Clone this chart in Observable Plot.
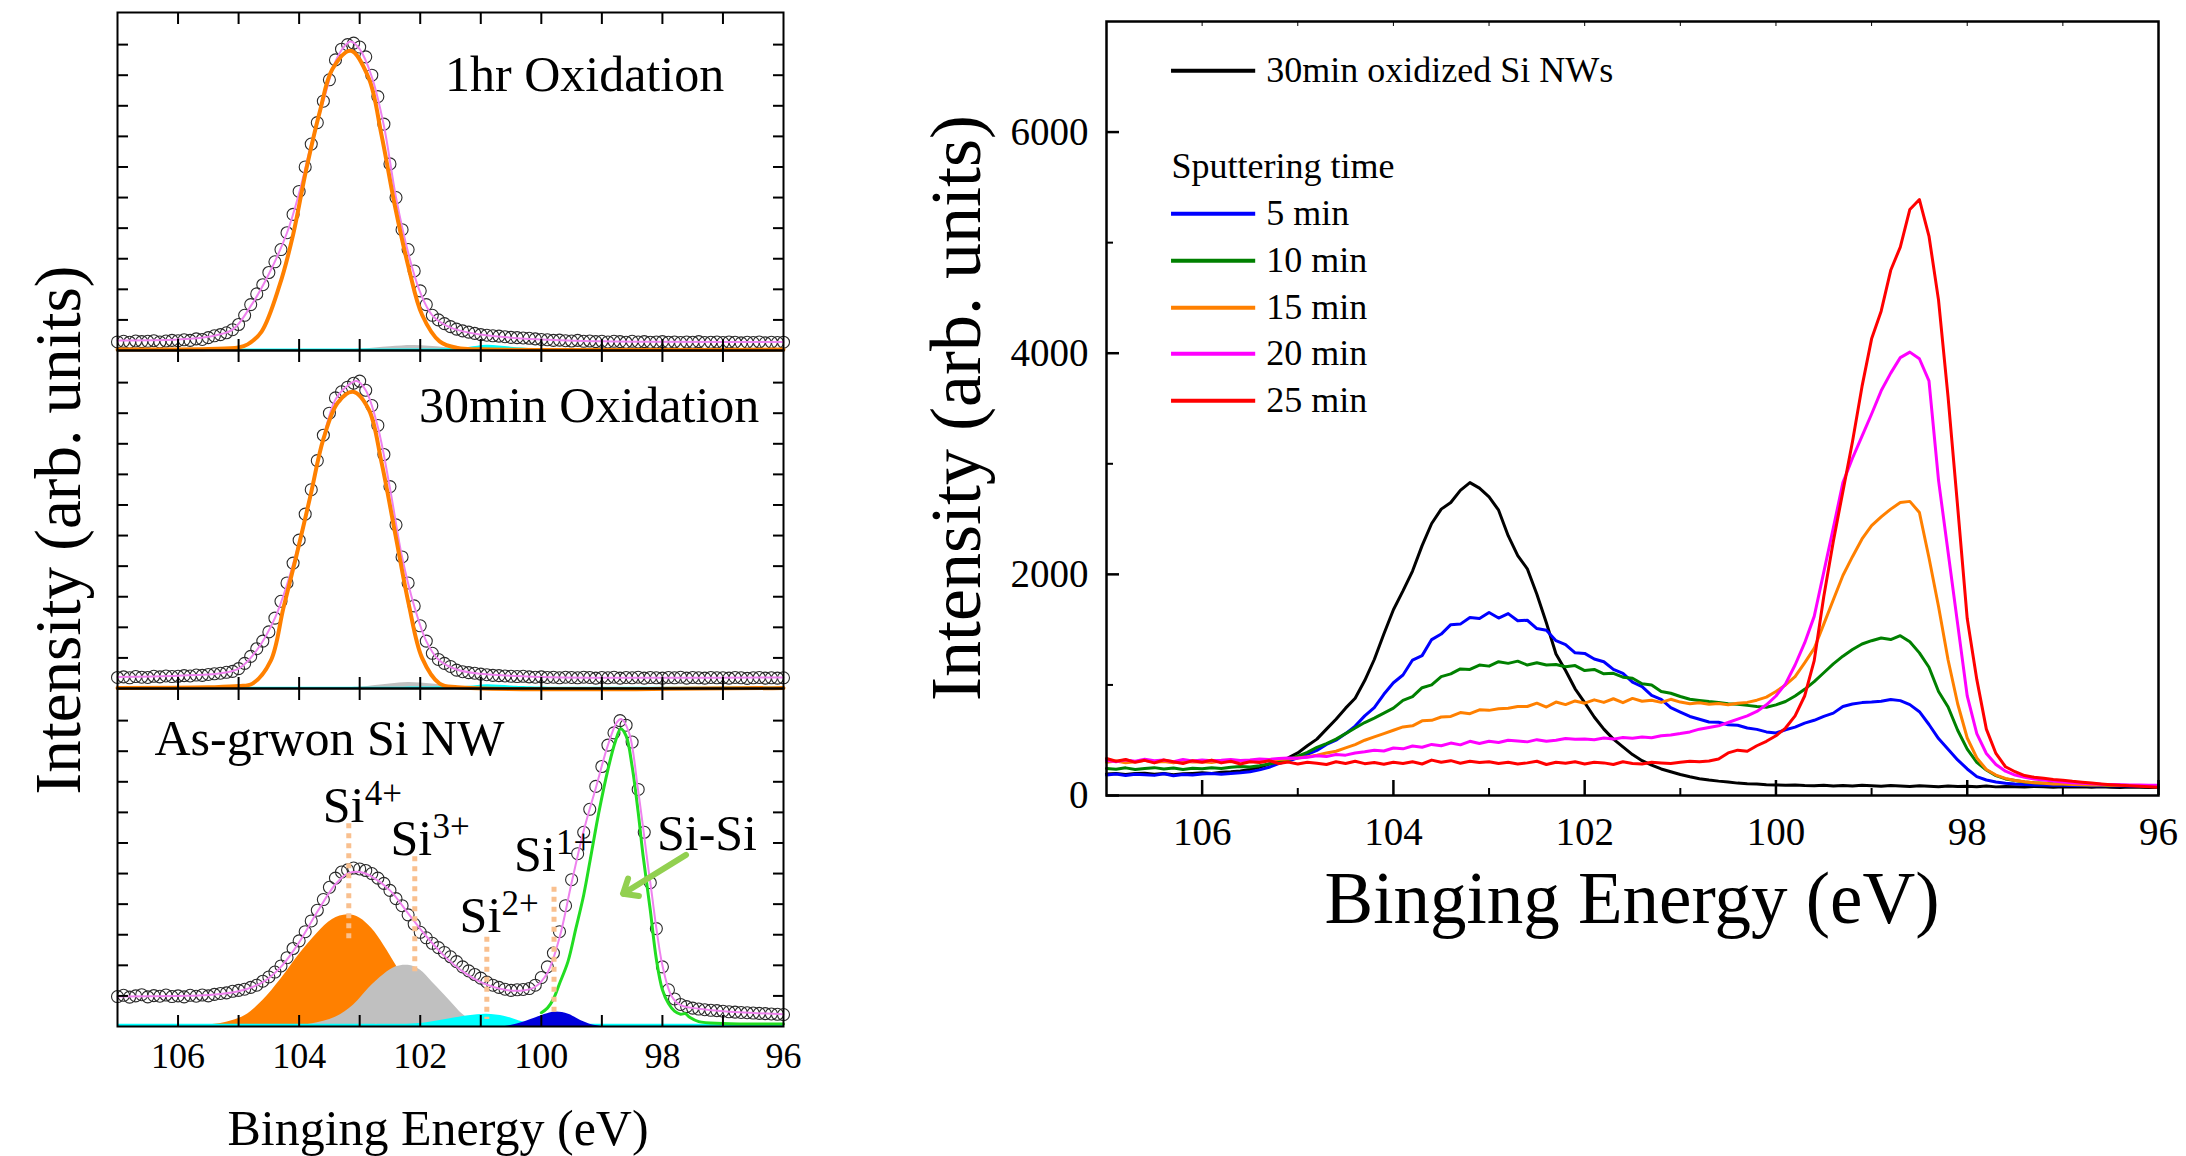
<!DOCTYPE html>
<html><head><meta charset="utf-8">
<script src="https://cdn.jsdelivr.net/npm/d3@7"></script>
<script src="https://cdn.jsdelivr.net/npm/@observablehq/plot@0.6"></script>
<style>
body{margin:0;background:#fff;}
#wrap{position:relative;width:2186px;height:1156px;background:#fff;overflow:hidden;}
</style></head><body><div id="wrap"></div>
<script>
// ---------- energy grid (eV) ----------
const E = [
107.0,106.9,106.8,106.7,106.6,106.5,106.4,106.3,106.2,106.1,
106.0,105.9,105.8,105.7,105.6,105.5,105.4,105.3,105.2,105.1,
105.0,104.9,104.8,104.7,104.6,104.5,104.4,104.3,104.2,104.1,
104.0,103.9,103.8,103.7,103.6,103.5,103.4,103.3,103.2,103.1,
103.0,102.9,102.8,102.7,102.6,102.5,102.4,102.3,102.2,102.1,
102.0,101.9,101.8,101.7,101.6,101.5,101.4,101.3,101.2,101.1,
101.0,100.9,100.8,100.7,100.6,100.5,100.4,100.3,100.2,100.1,
100.0,99.9,99.8,99.7,99.6,99.5,99.4,99.3,99.2,99.1,
99.0,98.9,98.8,98.7,98.6,98.5,98.4,98.3,98.2,98.1,
98.0,97.9,97.8,97.7,97.6,97.5,97.4,97.3,97.2,97.1,
97.0,96.9,96.8,96.7,96.6,96.5,96.4,96.3,96.2,96.1,
96.0];

// ---------- right panel spectra (counts) ----------
const oxid30 = [
195,200,190,198,202,192,198,188,196,200,
205,200,210,215,222,235,255,285,305,340,
385,450,510,600,690,790,880,1040,1230,1460,
1680,1850,2030,2260,2460,2590,2650,2760,2830,2780,
2700,2580,2350,2170,2050,1820,1560,1280,1130,965,
840,710,600,510,440,370,315,275,240,215,
190,170,152,140,130,122,112,106,104,98,
96,92,95,90,88,92,85,90,86,92,
88,84,90,86,82,88,84,80,86,82,
84,80,85,78,82,80,76,82,78,75,
80,76,78,74,78,75,72,76,74,72,
75];
const sput5 = [
185,195,180,192,188,182,196,178,190,186,
195,198,192,200,205,215,232,255,288,312,
340,372,408,462,500,560,628,720,795,915,
1020,1090,1225,1265,1410,1460,1545,1550,1610,1600,
1655,1605,1645,1580,1585,1510,1495,1400,1365,1290,
1285,1235,1210,1140,1105,1025,985,905,870,795,
755,715,690,665,662,640,635,610,598,575,
565,595,618,655,680,715,745,805,828,840,
845,852,868,858,822,758,642,515,418,322,
240,170,140,122,110,104,100,96,94,92,
92,90,93,89,91,88,90,87,89,86,
88];
const sput10 = [
245,238,250,236,244,252,240,248,235,246,
242,250,245,256,262,258,270,285,300,325,
355,390,435,470,510,560,610,660,700,745,
790,860,895,975,1000,1075,1100,1145,1140,1180,
1170,1210,1195,1215,1180,1200,1180,1185,1165,1175,
1130,1140,1100,1105,1070,1060,1010,1000,940,925,
895,870,860,850,842,830,825,815,805,798,
820,850,900,960,1030,1110,1190,1260,1320,1370,
1400,1425,1410,1445,1390,1290,1160,940,800,590,
420,300,230,180,150,135,122,115,110,106,
104,100,98,96,95,93,92,91,90,89,
90];
const sput15 = [
300,312,296,305,318,300,308,295,310,302,
306,298,312,305,316,310,320,318,326,330,
340,350,365,385,400,430,460,500,530,560,
590,620,630,675,680,710,715,750,740,775,
770,785,790,805,805,835,800,845,822,855,
835,865,842,875,840,878,852,862,842,870,
845,830,838,825,832,820,835,842,862,890,
940,1000,1075,1200,1330,1550,1770,1990,2160,2320,
2440,2520,2590,2650,2660,2560,2150,1710,1225,830,
520,340,235,185,155,135,124,115,110,105,
103,100,97,96,94,93,92,91,90,89,
90];
const sput20 = [
318,305,322,310,328,315,320,306,325,312,
320,314,318,325,316,322,330,326,335,340,
338,345,360,352,370,365,385,395,410,402,
430,422,448,436,462,450,474,458,490,470,
490,480,500,492,485,505,490,500,515,508,
512,505,520,510,525,518,530,522,540,548,
560,575,600,615,630,660,690,720,760,820,
900,1010,1180,1380,1620,2020,2420,2830,3050,3250,
3450,3660,3820,3960,4010,3950,3750,2850,2200,1550,
900,560,380,280,220,185,165,150,140,130,
122,115,110,106,102,100,98,96,95,93,
92];
const sput25 = [
335,310,325,300,318,295,322,305,290,315,
300,320,295,310,285,305,298,315,290,302,
285,300,292,280,305,290,310,288,298,282,
300,290,305,285,320,300,315,292,310,298,
305,290,300,285,295,310,280,300,292,305,
285,300,295,280,305,290,285,300,295,290,
300,310,305,312,330,385,410,400,450,490,
540,610,720,900,1220,1800,2300,2750,3200,3700,
4130,4380,4750,4960,5300,5390,5060,4480,3600,2610,
1600,1050,600,380,260,215,180,165,155,145,
138,128,120,112,105,98,92,88,84,80,
75];

const spectraNames = ["30min oxidized Si NWs", "5 min", "10 min", "15 min", "20 min", "25 min"];
const spectraColors = ["#000000", "#0000ff", "#008000", "#ff8000", "#ff00ff", "#ff0000"];
const spectra = [oxid30, sput5, sput10, sput15, sput20, sput25];
const legendHeader = "Sputtering time";
// legend layout in data units of the right panel
const legendRowY = [6555, 5262, 4837, 4412, 3996, 3571];
const legendHeaderY = 5692;
const legendSwatchX = [106.32, 105.44];
const legendTextX = 105.33;

// ---------- left panels: measured points (arb. units) ----------
const oxid1hPts = [
0.28,0.3,0.27,0.31,0.29,0.3,0.32,0.28,0.31,0.33,
0.32,0.35,0.33,0.38,0.36,0.42,0.48,0.52,0.58,0.68,
0.85,1.15,1.5,1.85,2.15,2.55,2.9,3.3,3.85,4.45,
5.2,6.0,6.75,7.45,8.15,8.85,9.5,9.85,10.0,10.05,
9.92,9.6,9.0,8.3,7.4,6.1,5.0,3.95,3.3,2.6,
1.95,1.5,1.15,1.0,0.88,0.78,0.7,0.64,0.6,0.56,
0.52,0.5,0.48,0.47,0.45,0.43,0.42,0.41,0.4,0.38,
0.36,0.35,0.33,0.34,0.32,0.31,0.33,0.3,0.31,0.29,
0.3,0.28,0.3,0.29,0.27,0.3,0.28,0.29,0.27,0.28,
0.29,0.27,0.28,0.26,0.28,0.27,0.29,0.26,0.27,0.28,
0.26,0.28,0.27,0.25,0.27,0.26,0.28,0.25,0.27,0.26,
0.27];
const oxid30Pts = [
0.36,0.38,0.35,0.39,0.37,0.36,0.4,0.38,0.41,0.39,
0.4,0.42,0.41,0.44,0.43,0.46,0.48,0.5,0.53,0.56,
0.65,0.82,1.05,1.3,1.55,1.85,2.3,2.85,3.45,4.1,
4.85,5.7,6.5,7.45,8.28,9.0,9.5,9.7,9.85,9.98,
10.05,9.75,9.25,8.6,7.65,6.6,5.35,4.3,3.45,2.7,
2.05,1.55,1.15,0.95,0.82,0.72,0.6,0.55,0.52,0.5,
0.47,0.45,0.43,0.42,0.41,0.4,0.39,0.4,0.38,0.37,
0.38,0.36,0.37,0.35,0.37,0.36,0.35,0.37,0.36,0.34,
0.36,0.35,0.37,0.34,0.36,0.35,0.37,0.34,0.36,0.35,
0.34,0.36,0.35,0.37,0.34,0.36,0.35,0.34,0.36,0.35,
0.35,0.34,0.36,0.35,0.33,0.35,0.36,0.34,0.35,0.34,
0.35];
const asGrownPts = [
0.98,1.02,0.96,1.0,1.04,0.97,1.01,0.99,1.03,0.98,
1.0,0.97,1.02,0.99,1.03,1.0,1.05,1.08,1.1,1.15,
1.18,1.22,1.28,1.35,1.48,1.62,1.78,1.98,2.25,2.55,
2.8,3.1,3.45,3.8,4.15,4.55,4.85,5.05,5.12,5.18,
5.15,5.1,5.0,4.85,4.68,4.45,4.18,3.95,3.65,3.35,
3.08,2.9,2.72,2.58,2.42,2.28,2.12,1.95,1.82,1.7,
1.58,1.45,1.35,1.28,1.22,1.18,1.2,1.21,1.24,1.35,
1.6,1.95,2.4,3.1,3.95,4.8,5.65,6.35,7.1,7.85,
8.5,9.2,9.6,10.0,9.85,9.3,7.75,6.35,4.7,3.2,
1.95,1.2,0.9,0.72,0.65,0.6,0.57,0.55,0.53,0.52,
0.5,0.48,0.47,0.46,0.45,0.44,0.43,0.42,0.41,0.4,
0.39];

// ---------- left panels: fitted curves [eV, value] ----------
const oxid1hEnvelope = [[107,0.33],[106,0.36],[105.5,0.45],[105.1,0.68],[104.8,1.45],[104.5,2.5],[104.2,3.85],[104.0,5.15],[103.8,6.75],[103.6,8.15],[103.4,9.45],[103.25,9.95],[103.15,10.1],[103.0,9.85],[102.8,8.95],[102.6,7.35],[102.4,5.0],[102.2,3.2],[102.0,1.9],[101.8,1.15],[101.5,0.75],[101.0,0.52],[100.0,0.36],[99,0.3],[96,0.28]];
const oxid1hSi4 = [[107,0.03],[105.5,0.05],[105,0.1],[104.85,0.2],[104.62,0.62],[104.32,2.15],[104.1,3.78],[103.89,5.85],[103.66,7.8],[103.45,9.2],[103.15,9.8],[102.85,8.9],[102.64,7.05],[102.41,4.65],[102.19,2.7],[101.97,1.17],[101.68,0.3],[101.38,0.08],[101,0.04],[96,0.03]];
const oxid1hSi3 = [[103.6,0],[103,0.04],[102.5,0.12],[102.1,0.16],[101.6,0.1],[101.1,0.03],[100.6,0]];
const oxid1hSi2 = [[107,0.05],[102,0.05],[101.6,0.06],[101.2,0.1],[100.9,0.17],[100.5,0.11],[100.1,0.06],[99.5,0.05],[96,0.05]];

const oxid30Envelope = [[107,0.38],[106,0.42],[105.3,0.5],[105,0.65],[104.7,1.25],[104.4,2.3],[104.2,3.4],[104,4.8],[103.8,6.45],[103.6,8.2],[103.4,9.45],[103.2,9.9],[103.05,10.05],[102.9,9.75],[102.7,8.55],[102.5,6.55],[102.3,4.3],[102.1,2.7],[101.9,1.55],[101.7,0.95],[101.4,0.62],[101,0.48],[100,0.38],[96,0.36]];
const oxid30Si4 = [[107,0.02],[105.5,0.04],[105,0.08],[104.77,0.16],[104.47,0.9],[104.26,2.63],[104.04,4.38],[103.81,6.33],[103.6,8.15],[103.36,9.35],[103.11,9.7],[102.85,9.12],[102.64,7.4],[102.41,5.03],[102.19,2.76],[101.97,1.0],[101.68,0.16],[101.38,0.04],[96,0.02]];
const oxid30Si3 = [[103.6,0],[103,0.05],[102.5,0.15],[102.2,0.2],[101.8,0.15],[101.3,0.05],[100.8,0]];
const oxid30Si2 = [[107,0.05],[101.8,0.05],[101.2,0.07],[100.9,0.12],[100.5,0.08],[100.1,0.05],[96,0.05]];

const asGrownEnvelope = [[107,0.98],[106,1.0],[105.5,1.03],[105,1.15],[104.6,1.45],[104.3,1.95],[104,2.75],[103.7,3.75],[103.4,4.65],[103.2,5.0],[103.0,5.05],[102.8,4.9],[102.5,4.45],[102.2,3.7],[101.9,2.95],[101.6,2.3],[101.3,1.8],[101,1.45],[100.6,1.2],[100.3,1.18],[100.1,1.3],[99.9,1.75],[99.7,2.9],[99.5,4.7],[99.3,6.4],[99.1,7.8],[98.9,9.2],[98.75,9.95],[98.68,10.05],[98.55,9.6],[98.4,7.7],[98.2,4.7],[98.0,2.0],[97.85,1.0],[97.7,0.7],[97.4,0.58],[97,0.5],[96,0.4]];
const asGrownSi4 = [[106,0],[105.6,0.03],[105.2,0.14],[104.9,0.35],[104.6,0.85],[104.3,1.55],[104.0,2.35],[103.7,3.05],[103.45,3.5],[103.2,3.65],[103.0,3.55],[102.8,3.2],[102.6,2.65],[102.4,2.0],[102.2,1.35],[102.0,0.8],[101.8,0.45],[101.5,0.15],[101.2,0.04],[100.8,0]];
const asGrownSi3 = [[104.2,0],[103.8,0.08],[103.4,0.3],[103.1,0.7],[102.85,1.25],[102.6,1.7],[102.4,1.95],[102.2,2.0],[102.0,1.85],[101.8,1.45],[101.5,0.82],[101.3,0.4],[101.1,0.15],[100.8,0.03],[100.5,0]];
const asGrownSi2 = [[107,0.07],[103,0.07],[102.6,0.07],[102.0,0.1],[101.6,0.22],[101.2,0.35],[100.9,0.4],[100.6,0.33],[100.3,0.15],[100.0,0.07],[99.6,0.07],[96,0.07]];
const asGrownSi1 = [[100.6,0],[100.4,0.08],[100.1,0.28],[99.9,0.42],[99.75,0.47],[99.55,0.4],[99.35,0.2],[99.15,0.05],[99.0,0]];
const asGrownSiSi = [[100.0,0.45],[99.9,0.6],[99.8,0.9],[99.7,1.4],[99.56,2.12],[99.43,3.2],[99.3,4.3],[99.17,5.7],[99.05,7.0],[98.9,8.4],[98.78,9.3],[98.69,9.73],[98.6,9.5],[98.5,8.5],[98.4,7.0],[98.32,5.6],[98.2,3.8],[98.1,2.2],[98.0,1.2],[97.9,0.75],[97.8,0.5],[97.7,0.4],[97.62,0.42],[97.55,0.3],[97.4,0.16],[97.0,0.1],[96.0,0.08]];

// ---------- annotations (data units) ----------
const panelTitles = ["1hr Oxidation", "30min Oxidation", "As-grwon Si NW"];
const chargeStates = [
  {base: "Si", sup: "4+", e: 103.61, y: 6.69, lineE: 103.18, y1: 6.63, y2: 2.71},
  {base: "Si", sup: "3+", e: 102.49, y: 5.61, lineE: 102.09, y1: 5.55, y2: 1.70},
  {base: "Si", sup: "2+", e: 101.35, y: 3.10, lineE: 100.90, y1: 2.92, y2: 0.23},
  {base: "Si", sup: "1+", e: 100.45, y: 5.10, lineE: 99.79, y1: 4.55, y2: 0.42}
];
const siSiLabel = {text: "Si-Si", e: 98.09, y: 5.78};
const siSiArrow = {e1: 97.61, y1: 5.61, e2: 98.65, y2: 4.34};

const eMajor = [106, 104, 102, 100, 98, 96];
const eMinor = [105, 103, 101, 99, 97];
const eAll = [106, 105, 104, 103, 102, 101, 100, 99, 98, 97];
const panelTicks = [1, 2, 3, 4, 5, 6, 7, 8, 9, 10];
const intMajor = [0, 2000, 4000, 6000];
const intMinor = [1000, 3000, 5000];

// ---------- drawing ----------
const FONT = '"Liberation Serif", "Times New Roman", serif';
const wrap = document.getElementById("wrap");
const style = {fontFamily: FONT, background: "none", overflow: "visible", color: "black"};
const pair = {x: d => d[0], y: d => d[1], curve: "catmull-rom"};
const blank = () => "";

function mount(svg, left, top, width) {
  const d = document.createElement("div");
  d.style.cssText = `position:absolute;left:${left}px;top:${top}px;width:${width}px;`;
  d.appendChild(svg);
  wrap.appendChild(d);
}

function leftFrame(withLabels) {
  const m = [
    Plot.frame({stroke: "black", strokeWidth: 2}),
    Plot.axisX({anchor: "bottom", ticks: eAll, tickSize: -11, tickFormat: blank, label: null, strokeWidth: 2}),
    Plot.axisX({anchor: "top", ticks: eAll, tickSize: -11, tickFormat: blank, label: null, strokeWidth: 2}),
    Plot.axisY({anchor: "left", ticks: panelTicks, tickSize: -11, tickFormat: blank, label: null, strokeWidth: 2}),
    Plot.axisY({anchor: "right", ticks: panelTicks, tickSize: -11, tickFormat: blank, label: null, strokeWidth: 2})
  ];
  if (withLabels) m.push(Plot.axisX({anchor: "bottom", ticks: eMajor, tickSize: 0, tickPadding: 16, fontSize: 36, label: null, tickFormat: d3.format("d")}));
  return m;
}

function pts(arr) { return E.map((e, i) => ({e, v: arr[i]})); }
const dotOpts = {x: "e", y: "v", r: 6, stroke: "#2a2a2a", strokeWidth: 1.1, fill: "none"};

function oxidPanel(points, env, si4, si3, si2, title, titleE, titleY) {
  return Plot.plot({
    width: 800, height: 338, marginLeft: 117, marginRight: 17, marginTop: 0, marginBottom: 0,
    x: {domain: [107, 96]}, y: {domain: [0, 11.05]}, style,
    marks: [
      Plot.areaY(si3, {...pair, fill: "#c0c0c0"}),
      Plot.areaY(si2, {...pair, fill: "#00ffff"}),
      Plot.dot(pts(points), dotOpts),
      Plot.line(env, {...pair, stroke: "#ee82ee", strokeWidth: 2}),
      Plot.line(si4, {...pair, stroke: "#ff8000", strokeWidth: 4}),
      Plot.text([title], {x: titleE, y: titleY, text: d => d, textAnchor: "end", lineAnchor: "bottom", fontSize: 50}),
      ...leftFrame(false)
    ]
  });
}

mount(oxidPanel(oxid1hPts, oxid1hEnvelope, oxid1hSi4, oxid1hSi3, oxid1hSi2, panelTitles[0], 96.98, 8.47), 0, 12, 800);
mount(oxidPanel(oxid30Pts, oxid30Envelope, oxid30Si4, oxid30Si3, oxid30Si2, panelTitles[1], 96.40, 8.70), 0, 350, 800);

const p3 = Plot.plot({
  width: 800, height: 478, marginLeft: 117, marginRight: 17, marginTop: 0, marginBottom: 140,
  x: {domain: [107, 96]}, y: {domain: [0, 11.05]}, style,
  marks: [
    Plot.areaY(asGrownSi4, {...pair, fill: "#ff8000"}),
    Plot.areaY(asGrownSi3, {...pair, fill: "#c0c0c0"}),
    Plot.areaY(asGrownSi2, {...pair, fill: "#00ffff"}),
    Plot.areaY(asGrownSi1, {...pair, fill: "#0000dd"}),
    Plot.dot(pts(asGrownPts), dotOpts),
    Plot.line(asGrownSiSi, {...pair, stroke: "#22dd22", strokeWidth: 3}),
    Plot.line(asGrownEnvelope, {...pair, stroke: "#ee82ee", strokeWidth: 2}),
    Plot.ruleX(chargeStates, {x: "lineE", y1: "y1", y2: "y2", stroke: "#f9c08f", strokeWidth: 5, strokeDasharray: "5,5"}),
    Plot.text(chargeStates, {x: "e", y: "y", text: "base", textAnchor: "start", lineAnchor: "bottom", fontSize: 50}),
    Plot.text(chargeStates, {x: "e", y: "y", text: "sup", textAnchor: "start", lineAnchor: "bottom", fontSize: 35, dx: 42, dy: -17}),
    Plot.text([siSiLabel], {x: "e", y: "y", text: "text", textAnchor: "start", lineAnchor: "bottom", fontSize: 50}),
    Plot.arrow([siSiArrow], {x1: "e1", y1: "y1", x2: "e2", y2: "y2", stroke: "#92d050", strokeWidth: 6, headLength: 4, headAngle: 80}),
    Plot.text([panelTitles[2]], {x: 106.39, y: 8.89, text: d => d, textAnchor: "start", lineAnchor: "bottom", fontSize: 50}),
    ...leftFrame(true)
  ]
});
mount(p3, 0, 688, 800);

// right panel
const rows = E.map((e, i) => {
  const r = {e};
  spectra.forEach((s, k) => r["s" + k] = s[i]);
  return r;
});
const legendRows = spectraNames.map((name, k) => ({name, y: legendRowY[k], color: spectraColors[k]}));

const rightMarks = [];
spectra.forEach((s, k) => rightMarks.push(Plot.line(rows, {x: "e", y: "s" + k, stroke: spectraColors[k], strokeWidth: 3})));
legendRows.forEach(r => rightMarks.push(Plot.ruleY([r], {y: "y", x1: legendSwatchX[0], x2: legendSwatchX[1], stroke: r.color, strokeWidth: 4})));
rightMarks.push(
  Plot.text(legendRows, {x: legendTextX, y: "y", text: "name", textAnchor: "start", lineAnchor: "middle", fontSize: 36}),
  Plot.text([legendHeader], {x: legendSwatchX[0], y: legendHeaderY, text: d => d, textAnchor: "start", lineAnchor: "middle", fontSize: 36}),
  Plot.frame({stroke: "black", strokeWidth: 2.5}),
  Plot.axisX({anchor: "bottom", ticks: eMajor, tickSize: -15, tickFormat: blank, label: null, strokeWidth: 2.5}),
  Plot.axisX({anchor: "bottom", ticks: eMinor, tickSize: -7, tickFormat: blank, label: null, strokeWidth: 2}),
  Plot.axisX({anchor: "top", ticks: eAll, tickSize: -4, tickFormat: blank, label: null, strokeWidth: 1}),
  Plot.axisX({anchor: "bottom", ticks: eMajor, tickSize: 0, tickPadding: 22, fontSize: 39, label: null, tickFormat: d3.format("d")}),
  Plot.axisY({anchor: "left", ticks: intMajor, tickSize: -13, tickFormat: blank, label: null, strokeWidth: 2.5}),
  Plot.axisY({anchor: "left", ticks: intMinor, tickSize: -7, tickFormat: blank, label: null, strokeWidth: 2}),
  Plot.axisY({anchor: "left", ticks: intMajor, tickSize: 0, tickPadding: 18, fontSize: 39, label: null, tickFormat: d3.format("d")})
);
const pr = Plot.plot({
  width: 1286, height: 960, marginLeft: 206, marginRight: 28, marginTop: 21, marginBottom: 165,
  x: {domain: [107, 96]}, y: {domain: [0, 7000]}, style,
  marks: rightMarks
});
mount(pr, 900, 0, 1286);

// axis titles
const titles = [
  {text: "Intensity (arb. units)", x: 80, y: 530, size: 65, rot: -90},
  {text: "Binging Energy (eV)", x: 438, y: 1145, size: 50, rot: 0},
  {text: "Intensity (arb. units)", x: 980, y: 408, size: 72, rot: -90},
  {text: "Binging Energy (eV)", x: 1632, y: 923, size: 73, rot: 0}
];
const ov = d3.select(wrap).append("svg")
  .attr("width", 2186).attr("height", 1156)
  .style("position", "absolute").style("left", "0px").style("top", "0px")
  .style("pointer-events", "none").style("font-family", FONT);
ov.selectAll("text").data(titles).join("text")
  .attr("transform", d => `translate(${d.x},${d.y}) rotate(${d.rot})`)
  .attr("text-anchor", "middle").attr("font-size", d => d.size).attr("fill", "black")
  .text(d => d.text);
</script></body></html>
